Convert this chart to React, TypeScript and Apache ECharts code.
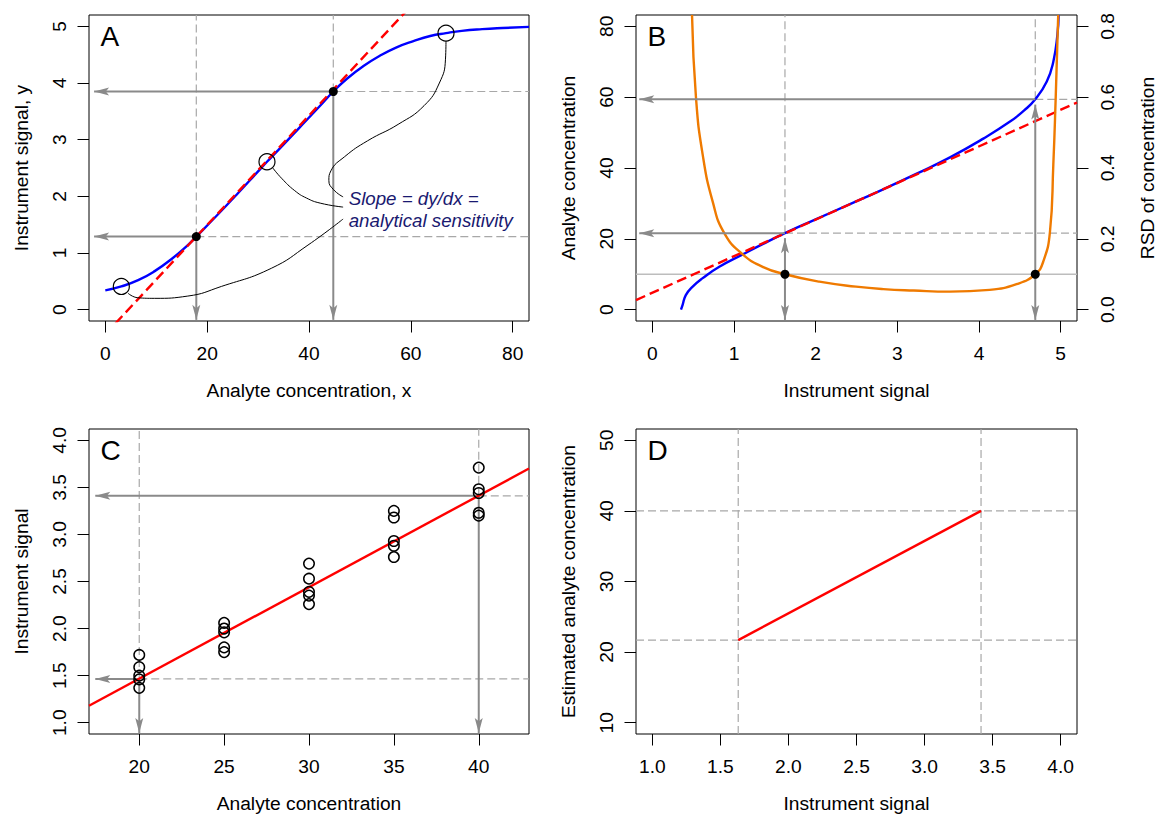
import React, { useEffect, useRef } from "react";
import * as echarts from "echarts";

// ---------------- Panel A: calibration curve ----------------
const aCurveX = [0, 3.15, 6.45, 9.7, 12.96, 16.2, 17.87, 22, 26, 30, 31.75, 34, 38, 42, 44.77, 47.5, 50.7, 53.9, 57.2, 60.5, 63.8, 66.9, 70, 74, 78, 83.2];
const aCurveY = [0.34, 0.41, 0.52, 0.68, 0.89, 1.14, 1.29, 1.67, 2.05, 2.44, 2.61, 2.82, 3.2, 3.58, 3.85, 4.08, 4.3, 4.48, 4.63, 4.74, 4.83, 4.88, 4.92, 4.95, 4.97, 4.99];
const aTangentX = [0, 60];
const aTangentY = [-0.435, 5.356];
const aRefX = [17.87, 44.77];
const aRefY = [1.29, 3.85];
const aCircleX = [3.15, 31.75, 66.9];
const aCircleY = [0.41, 2.61, 4.88];
const aLeader1X = [4.46, 6.4, 9.7, 16.2, 22.8, 32.6, 39.8, 46.7];
const aLeader1Y = [0.29, 0.21, 0.2, 0.24, 0.41, 0.73, 1.14, 1.6];
const aLeader2X = [32.9, 34.6, 37.2, 39.5, 42.2, 46.7];
const aLeader2Y = [2.5, 2.32, 2.1, 1.97, 1.88, 1.81];
const aLeader3X = [66.9, 66.8, 65.6, 62.6, 57.5, 51.5, 47.0, 44.3, 43.9, 44.8, 46.7];
const aLeader3Y = [4.74, 4.42, 4.0, 3.6, 3.27, 2.98, 2.7, 2.45, 2.28, 2.12, 1.99];
const aNoteX = [47.7, 47.7];
const aNoteY = [1.97, 1.57];
const aNotes = ["Slope = dy/dx =", "analytical sensitivity"];
const aArrowLeftX = -2.2;
const aArrowBottomY = -0.18;
const A_X = [-3.2, 83.2];
const A_Y = [-0.2, 5.2];
const aXTicks = [0, 20, 40, 60, 80];
const aYTicks = [0, 1, 2, 3, 4, 5];

// ---------------- Panel B: inverse curve and RSD ----------------
const bCurveX = [0.351, 0.37, 0.41, 0.494, 0.617, 0.82, 1.107, 1.35, 1.624, 2.0, 2.42, 2.8, 3.237, 3.645, 4.053, 4.38, 4.55, 4.689, 4.83, 4.91, 4.96, 4.975];
const bCurveY = [0, 1.3, 4.1, 6.5, 8.9, 12.1, 15.6, 18.5, 21.6, 25.5, 29.8, 33.7, 38.4, 43.0, 48.3, 53.1, 56.2, 59.4, 64.4, 70.0, 77.6, 83.2];
const bLinearX = [-0.2, 5.2];
const bLinearY = [2.7, 58.5];
const bRsdX = [0.486, 0.535, 0.617, 0.739, 0.881, 1.107, 1.351, 1.624, 2.045, 2.494, 2.828, 3.2, 3.645, 4.13, 4.46, 4.689, 4.787, 4.869, 4.91, 4.939, 4.97];
const bRsdY = [0.832, 0.597, 0.437, 0.305, 0.216, 0.156, 0.121, 0.1, 0.079, 0.065, 0.058, 0.054, 0.051, 0.056, 0.072, 0.1, 0.136, 0.22, 0.409, 0.597, 0.832];
const bRefX = [1.624, 4.689];
const bRefConc = [21.6, 59.4];
const bRsdLimit = 0.1;
const bArrowTopRsd = [0.202, 0.579];
const bArrowBottomRsd = -0.029;
const bArrowLeftX = -0.16;
const B_X = [-0.2, 5.2];
const B_YL = [-3.2, 83.2];
const B_YR = [-0.032, 0.832];
const bXTicks = [0, 1, 2, 3, 4, 5];
const bYLTicks = [0, 20, 40, 60, 80];
const bYRTicks = [0, 0.2, 0.4, 0.6, 0.8];

// ---------------- Panel C: calibration data ----------------
const cGroupX = [20, 25, 30, 35, 40];
const cObs = [
  [1.72, 1.59, 1.5, 1.46, 1.37],
  [2.06, 2.0, 1.96, 1.8, 1.75],
  [2.69, 2.53, 2.39, 2.35, 2.26],
  [3.25, 3.18, 2.93, 2.88, 2.76],
  [3.71, 3.48, 3.44, 3.23, 3.2],
];
const cFitX = [17.04, 42.96];
const cFitY = [1.18, 3.7];
const cRefX = [20, 40];
const cRefY = [1.465, 3.41];
const cArrowLeftX = 17.41;
const cArrowBottomY = 0.89;
const C_X = [17.04, 42.96];
const C_Y = [0.88, 4.12];
const cXTicks = [20, 25, 30, 35, 40];
const cYTicks = [1, 1.5, 2, 2.5, 3, 3.5, 4];

// ---------------- Panel D: estimated concentration ----------------
const dLineX = [1.631, 3.415];
const dLineY = [21.7, 40.0];
const D_X = [0.88, 4.12];
const D_Y = [8.4, 51.6];
const dXTicks = [1, 1.5, 2, 2.5, 3, 3.5, 4];
const dYTicks = [10, 20, 30, 40, 50];

// ---------------- styles ----------------
const FONT = '"Liberation Sans", Arial, Helvetica, sans-serif';
const BLUE = "#0000ff";
const RED = "#ff0000";
const ORANGE = "#ef7a00";
const GRAY_ARROW = "#8a8a8a";
const DASH = { color: "#a8a8a8", width: 1.2, type: [8, 4] };
const ARROW = { color: GRAY_ARROW, width: 2 };
const HEAD = "path://M5,0L10,16L5,12.5L0,16Z";
const HEAD_W = 8;
const HEAD_L = 15;

const GRIDS = [
  { left: 89, top: 15, width: 440, height: 306 },
  { left: 636, top: 15, width: 441, height: 306 },
  { left: 89, top: 429, width: 440, height: 305 },
  { left: 636, top: 429, width: 441, height: 305 },
];
const LETTERS = ["A", "B", "C", "D"];

const pairs = (xs: number[], ys: number[]) => xs.map((x, i) => [x, ys[i]]);

function line(xi: number, yi: number, data: number[][], lineStyle: any, extra: any = {}) {
  return {
    type: "line",
    xAxisIndex: xi,
    yAxisIndex: yi,
    data,
    symbol: "none",
    showSymbol: false,
    lineStyle: { opacity: 1, ...lineStyle },
    silent: true,
    clip: true,
    z: 2,
    ...extra,
  };
}

type Head = { x: number; y: number; dir: "left" | "down" | "up" };
function heads(xi: number, yi: number, items: Head[]) {
  return {
    type: "scatter",
    xAxisIndex: xi,
    yAxisIndex: yi,
    symbol: HEAD,
    symbolSize: [HEAD_W, HEAD_L],
    silent: true,
    clip: false,
    z: 4,
    itemStyle: { color: GRAY_ARROW, opacity: 1 },
    data: items.map(({ x, y, dir }) => ({
      value: [x, y],
      symbolRotate: dir === "left" ? 90 : dir === "down" ? 180 : 0,
      symbolOffset: dir === "left" ? [HEAD_L / 2, 0] : dir === "down" ? [0, -HEAD_L / 2] : [0, HEAD_L / 2],
    })),
  };
}

function axis(kind: "x" | "y", gridIndex: number, range: number[], ticks: number[], decimals: number, name: string, position?: string) {
  const isY = kind === "y";
  const right = position === "right";
  return {
    type: "value",
    gridIndex,
    min: range[0],
    max: range[1],
    position: position ?? (isY ? "left" : "bottom"),
    axisLine: { show: false, onZero: false },
    axisTick: { show: true, inside: false, length: 11.5, customValues: ticks, lineStyle: { color: "#000", width: 1 } },
    axisLabel: {
      show: true,
      customValues: ticks,
      formatter: (v: number) => v.toFixed(decimals),
      rotate: isY ? 90 : 0,
      margin: isY ? (right ? 21 : 20) : 23,
      fontSize: 19.2,
      fontFamily: FONT,
      color: "#000",
    },
    splitLine: { show: false },
    name,
    nameLocation: "middle",
    nameGap: isY ? (right ? 61 : 58) : 60,
    nameRotate: isY ? 90 : 0,
    nameMoveOverlap: false,
    nameTextStyle: { fontSize: 19.2, fontFamily: FONT, color: "#000" },
  };
}

function buildOption() {
  const series: any[] = [];

  // ----- Panel A -----
  aRefX.forEach((x, i) => {
    const y = aRefY[i];
    series.push(line(0, 0, [[x, y], [x, A_Y[1]]], DASH));
    series.push(line(0, 0, [[x, y], [A_X[1], y]], DASH));
  });
  series.push(line(0, 0, pairs(aCurveX, aCurveY), { color: BLUE, width: 2.4 }, { smooth: 0.5 }));
  series.push(line(0, 0, pairs(aTangentX, aTangentY), { color: RED, width: 2.4, type: [10, 5] }));
  aRefX.forEach((x, i) => {
    const y = aRefY[i];
    series.push(line(0, 0, [[x, y], [x, aArrowBottomY]], ARROW, { z: 3 }));
    series.push(line(0, 0, [[x, y], [aArrowLeftX, y]], ARROW, { z: 3 }));
  });
  series.push(
    heads(0, 0, aRefX.flatMap((x, i) => [
      { x: aArrowLeftX, y: aRefY[i], dir: "left" as const },
      { x, y: aArrowBottomY, dir: "down" as const },
    ]))
  );
  [[aLeader1X, aLeader1Y], [aLeader2X, aLeader2Y], [aLeader3X, aLeader3Y]].forEach(([xs, ys]) => {
    series.push(line(0, 0, pairs(xs, ys), { color: "#000", width: 1 }, { smooth: 0.5, z: 3 }));
  });
  series.push({
    type: "scatter",
    xAxisIndex: 0,
    yAxisIndex: 0,
    data: pairs(aCircleX, aCircleY),
    symbol: "circle",
    symbolSize: 16,
    itemStyle: { color: "rgba(0,0,0,0)", borderColor: "#000", borderWidth: 1.2, opacity: 1 },
    silent: true,
    z: 5,
  });
  series.push({
    type: "scatter",
    xAxisIndex: 0,
    yAxisIndex: 0,
    data: pairs(aRefX, aRefY),
    symbol: "circle",
    symbolSize: 9,
    itemStyle: { color: "#000", opacity: 1 },
    silent: true,
    z: 6,
  });
  series.push({
    type: "scatter",
    xAxisIndex: 0,
    yAxisIndex: 0,
    data: aNoteX.map((x, i) => ({ value: [x, aNoteY[i]], name: aNotes[i] })),
    symbol: "circle",
    symbolSize: 1,
    itemStyle: { color: "rgba(0,0,0,0)", opacity: 1 },
    label: {
      show: true,
      position: "right",
      distance: 0,
      formatter: "{b}",
      color: "#191970",
      opacity: 1,
      fontStyle: "italic",
      fontSize: 18.7,
      fontFamily: FONT,
    },
    silent: true,
    z: 6,
  });

  // ----- Panel B -----
  bRefX.forEach((x, i) => {
    const c = bRefConc[i];
    series.push(line(1, 1, [[x, c], [x, B_YL[1]]], DASH));
    series.push(line(1, 1, [[x, c], [B_X[1], c]], DASH));
  });
  series.push(line(1, 2, [[B_X[0], bRsdLimit], [B_X[1], bRsdLimit]], { color: "#bdbdbd", width: 1.5 }));
  series.push(line(1, 1, pairs(bCurveX, bCurveY), { color: BLUE, width: 2.4 }, { smooth: 0.5 }));
  series.push(line(1, 1, pairs(bLinearX, bLinearY), { color: RED, width: 2.4, type: [10, 5] }));
  series.push(line(1, 2, pairs(bRsdX, bRsdY), { color: ORANGE, width: 2.4 }, { smooth: 0.5 }));
  bRefX.forEach((x, i) => {
    const c = bRefConc[i];
    series.push(line(1, 1, [[x, c], [bArrowLeftX, c]], ARROW, { z: 3 }));
    series.push(line(1, 2, [[x, bRsdLimit], [x, bArrowTopRsd[i]]], ARROW, { z: 3 }));
    series.push(line(1, 2, [[x, bRsdLimit], [x, bArrowBottomRsd]], ARROW, { z: 3 }));
  });
  series.push(heads(1, 1, bRefX.map((_, i) => ({ x: bArrowLeftX, y: bRefConc[i], dir: "left" as const }))));
  series.push(
    heads(1, 2, bRefX.flatMap((x, i) => [
      { x, y: bArrowTopRsd[i], dir: "up" as const },
      { x, y: bArrowBottomRsd, dir: "down" as const },
    ]))
  );
  series.push({
    type: "scatter",
    xAxisIndex: 1,
    yAxisIndex: 2,
    data: bRefX.map((x) => [x, bRsdLimit]),
    symbol: "circle",
    symbolSize: 9,
    itemStyle: { color: "#000", opacity: 1 },
    silent: true,
    z: 6,
  });

  // ----- Panel C -----
  cRefX.forEach((x, i) => {
    const y = cRefY[i];
    series.push(line(2, 3, [[x, y], [x, C_Y[1]]], DASH));
    series.push(line(2, 3, [[x, y], [C_X[1], y]], DASH));
    series.push(line(2, 3, [[x, y], [x, cArrowBottomY]], ARROW, { z: 3 }));
    series.push(line(2, 3, [[x, y], [cArrowLeftX, y]], ARROW, { z: 3 }));
  });
  series.push(
    heads(2, 3, cRefX.flatMap((x, i) => [
      { x: cArrowLeftX, y: cRefY[i], dir: "left" as const },
      { x, y: cArrowBottomY, dir: "down" as const },
    ]))
  );
  series.push(line(2, 3, pairs(cFitX, cFitY), { color: RED, width: 2.4 }, { z: 4 }));
  series.push({
    type: "scatter",
    xAxisIndex: 2,
    yAxisIndex: 3,
    data: cGroupX.flatMap((x, g) => cObs[g].map((y) => [x, y])),
    symbol: "circle",
    symbolSize: 10.5,
    itemStyle: { color: "rgba(0,0,0,0)", borderColor: "#000", borderWidth: 1.5, opacity: 1 },
    silent: true,
    z: 5,
  });

  // ----- Panel D -----
  dLineX.forEach((x) => series.push(line(3, 4, [[x, D_Y[0]], [x, D_Y[1]]], DASH)));
  dLineY.forEach((y) => series.push(line(3, 4, [[D_X[0], y], [D_X[1], y]], DASH)));
  series.push(line(3, 4, pairs(dLineX, dLineY), { color: RED, width: 2.4 }, { z: 4 }));

  return {
    animation: false,
    backgroundColor: "#fff",
    grid: GRIDS.map((g) => ({
      ...g,
      show: true,
      borderColor: "#000",
      borderWidth: 1,
      backgroundColor: "transparent",
      containLabel: false,
      outerBoundsMode: "none",
    })),
    xAxis: [
      axis("x", 0, A_X, aXTicks, 0, "Analyte concentration, x"),
      axis("x", 1, B_X, bXTicks, 0, "Instrument signal"),
      axis("x", 2, C_X, cXTicks, 0, "Analyte concentration"),
      axis("x", 3, D_X, dXTicks, 1, "Instrument signal"),
    ],
    yAxis: [
      axis("y", 0, A_Y, aYTicks, 0, "Instrument signal, y"),
      axis("y", 1, B_YL, bYLTicks, 0, "Analyte concentration"),
      axis("y", 1, B_YR, bYRTicks, 1, "RSD of concentration", "right"),
      axis("y", 2, C_Y, cYTicks, 1, "Instrument signal"),
      axis("y", 3, D_Y, dYTicks, 0, "Estimated analyte concentration"),
    ],
    series,
    graphic: GRIDS.map((g, i) => ({
      type: "text",
      x: g.left + 11.5,
      y: g.top + 21.5,
      silent: true,
      style: {
        text: LETTERS[i],
        fontSize: 28,
        fontFamily: FONT,
        fill: "#000",
        align: "left",
        verticalAlign: "middle",
      },
    })),
  };
}

export default function App() {
  const ref = useRef<HTMLDivElement>(null);
  useEffect(() => {
    if (!ref.current) return;
    const chart = echarts.init(ref.current, null, { renderer: "svg" });
    chart.setOption(buildOption() as any);
    return () => chart.dispose();
  }, []);
  return (
    <div
      ref={ref}
      style={{ position: "absolute", left: 0, top: 0, width: 1159, height: 814, background: "#fff" }}
    />
  );
}
